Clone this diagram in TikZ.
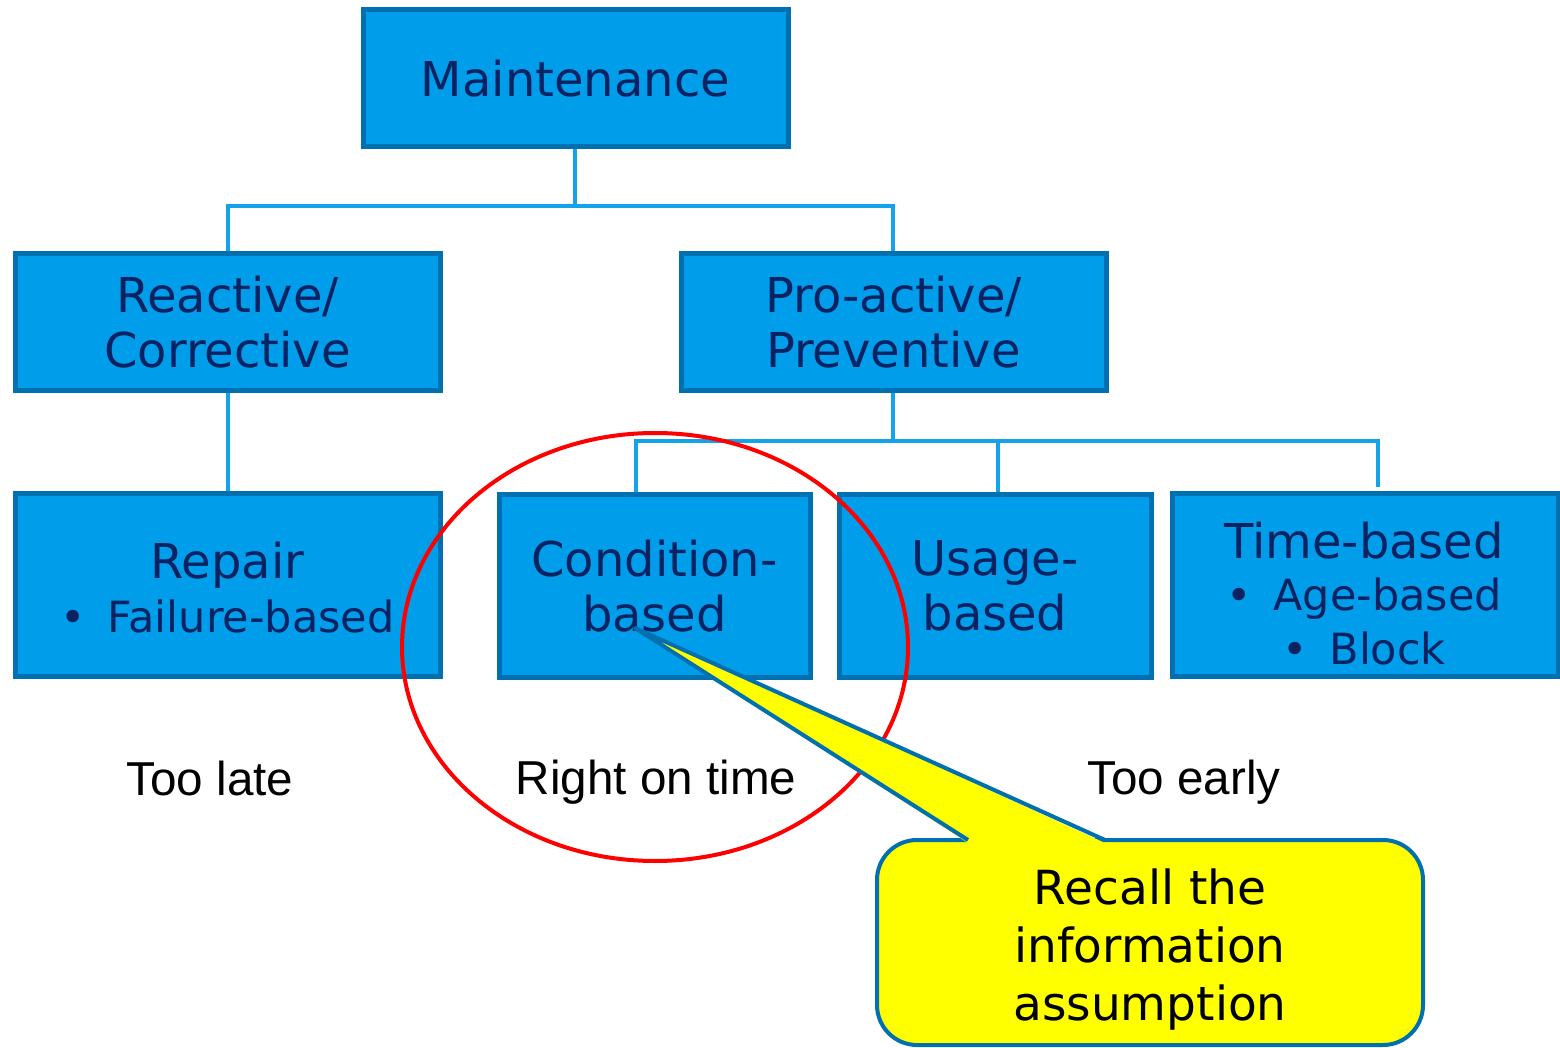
\documentclass[tikz,border=0pt]{standalone}
\usepackage{fontspec}
\setmainfont{DejaVu Sans}
\newfontfamily\arialf{Liberation Sans}
\definecolor{boxfill}{RGB}{0,157,234}
\definecolor{boxline}{RGB}{0,112,176}
\definecolor{navy}{RGB}{8,34,98}
\definecolor{conn}{RGB}{20,162,232}
\definecolor{callfill}{RGB}{255,255,0}
\begin{document}
\begin{tikzpicture}[x=0.5pt,y=-0.5pt,
  box/.style={draw=boxline,fill=boxfill,line width=2.5pt,inner sep=0pt,align=center,
    text=navy,font=\fontsize{24}{27.5}\selectfont},
  link/.style={draw=conn,line width=2pt},
  lbl/.style={font=\arialf\fontsize{23.8}{28}\selectfont,text=black,inner sep=0pt,anchor=base}]
\useasboundingbox (0,0) rectangle (1560,1048);
% connector coordinates
\coordinate (j1) at (575,206);
\coordinate (j2) at (893,441);
\coordinate (tend) at (1378,487);
% connectors
\draw[link] (575,147) -- (j1);
\draw[link] (228,252) |- (j1) -| (893,252);
\draw[link] (228,389) -- (228,494);
\draw[link] (893,389) -- (j2);
\draw[link] (636,494) |- (j2) -| (tend);
\draw[link] (998,441) -- (998,494);
% boxes
\node[box,minimum width=212.5pt,minimum height=68.5pt] (maint) at (575.5,78.5) {Maintenance};
\node[box,minimum width=212.5pt,minimum height=68.5pt] (react) at (227.5,322) {Reactive/\\Corrective};
\node[box,minimum width=212.5pt,minimum height=68.5pt] (pro) at (893.5,322) {Pro-active/\\Preventive};
\node[box,minimum width=212.5pt,minimum height=91pt] (repair) at (227.5,585) {};
\node[text=navy,align=center,inner sep=0pt,font=\fontsize{24}{27}\selectfont] (repairt) at (227.5,588) {Repair\\{\fontsize{21.5}{26}\selectfont\textbullet\hspace{11pt}Failure-based}};
\node[box,minimum width=155.5pt,minimum height=91pt] (cond) at (654.5,586) {Condition-\\based};
\node[box,minimum width=156pt,minimum height=91pt] (usage) at (995,586) {Usage-\\based};
\node[box,minimum width=193pt,minimum height=91pt] (time) at (1365,585) {};
\node[text=navy,align=center,inner sep=0pt,font=\fontsize{24}{27}\selectfont] (timet) at (1364,594) {Time-based\\[-1pt]{\fontsize{21.5}{26}\selectfont\textbullet\hspace{11pt}Age-based}\\{\fontsize{21.5}{26}\selectfont\textbullet\hspace{11pt}Block}};
% bottom labels
\node[lbl] (late) at (210,795) {Too late};
\node[lbl] (right) at (656,794) {Right on time};
\node[lbl] (early) at (1184,794) {Too early};
% red ellipse
\draw[red,line width=2pt] (655,647) ellipse [x radius=126.5pt, y radius=107pt];
% callout
\node[draw=boxline,fill=callfill,line width=2pt,rounded corners=20pt,
  minimum width=273pt,minimum height=102.5pt,inner sep=0pt] (call) at (1150,942.5) {};
\node[align=center,inner sep=0pt,font=\fontsize{23.5}{29}\selectfont] (callt) at (1150,950) {Recall the\\information\\assumption};
\coordinate (tip) at (635,628);
\coordinate (pl) at (968,840);
\coordinate (pr) at (1105,840);
\fill[callfill] (968,843) -- (tip) -- (1105,843) -- cycle;
\draw[boxline,line width=2pt,line join=round] (pl) -- (tip) -- (pr);
\end{tikzpicture}
\end{document}
